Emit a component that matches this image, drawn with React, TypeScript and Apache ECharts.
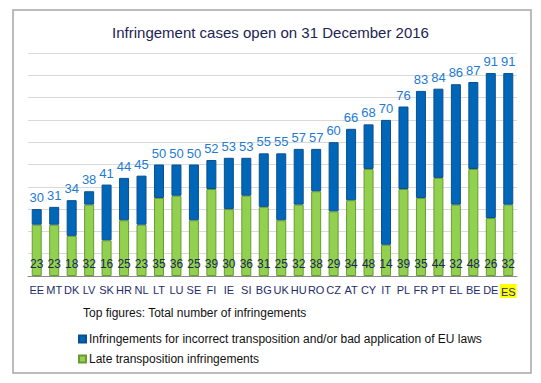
import React, { useEffect, useRef } from "react";
import * as echarts from "echarts";

const categories = ["EE","MT","DK","LV","SK","HR","NL","LT","LU","SE","FI","IE","SI","BG","UK","HU","RO","CZ","AT","CY","IT","PL","FR","PT","EL","BE","DE","ES"];
const totals = [30,31,34,38,41,44,45,50,50,50,52,53,53,55,55,57,57,60,66,68,70,76,83,84,86,87,91,91];
const late = [23,23,18,32,16,25,23,35,36,25,39,30,36,31,25,32,38,29,34,48,14,39,35,44,32,48,26,32];
const incorrect = totals.map((t, i) => t - late[i]);

const FONT = "'Liberation Sans', Arial, sans-serif";

export default function App() {
  const ref = useRef<HTMLDivElement>(null);
  useEffect(() => {
    if (!ref.current) return;
    const chart = echarts.init(ref.current, undefined, { renderer: "svg" });
    chart.setOption({
      animation: false,
      backgroundColor: "#ffffff",
      textStyle: { fontFamily: FONT },
      title: {
        text: "Infringement cases open on 31 December 2016",
        left: "center",
        top: 20,
        textStyle: { fontFamily: FONT, fontSize: 15, fontWeight: "normal", color: "#1c2452" },
      },
      grid: { left: 28, right: 24, top: 53, bottom: 107, containLabel: false },
      xAxis: {
        type: "category",
        data: categories,
        axisTick: { show: false },
        axisLine: { lineStyle: { color: "#8c8c8c", width: 1 } },
        axisLabel: {
          interval: 0,
          margin: 8,
          fontSize: 11,
          color: "#1f2d6b",
          fontFamily: FONT,
          formatter: (v: string) => (v === "ES" ? "{hl|ES}" : v),
          rich: {
            hl: { backgroundColor: "#ffff00", color: "#1f2d6b", fontSize: 11, padding: [2, 1, 1, 1], fontFamily: FONT },
          },
        },
      },
      yAxis: {
        type: "value",
        min: 0,
        max: 100,
        interval: 10,
        axisLabel: { show: false },
        axisLine: { show: false },
        axisTick: { show: false },
        splitLine: { lineStyle: { color: "#d9d9d9", width: 1 } },
      },
      legend: {
        orient: "vertical",
        left: 73,
        top: 328,
        itemWidth: 7,
        itemHeight: 7,
        itemGap: 8,
        icon: "rect",
        textStyle: { fontFamily: FONT, fontSize: 12, color: "#111111", padding: [0, 0, 0, -2] },
        data: ["Infringements for incorrect transposition and/or bad application of EU laws", "Late transposition infringements"],
      },
      graphic: [
        {
          type: "rect",
          shape: { x: 13, y: 10, width: 518, height: 363 },
          style: { fill: "none", stroke: "#a6a6a6", lineWidth: 1.5 },
          silent: true,
        },
        {
          type: "text",
          left: 83,
          top: 307,
          style: { text: "Top figures: Total number of infringements", font: `12px ${FONT}`, fill: "#111111" },
        },
      ],
      series: [
        {
          name: "Late transposition infringements",
          type: "bar",
          stack: "total",
          barWidth: 10,
          data: late,
          itemStyle: { color: "#92d050", borderColor: "#6a9a32", borderWidth: 1 },
          label: {
            show: true,
            position: "insideBottom",
            distance: 6,
            fontSize: 12,
            color: "#1b2a4e",
            fontFamily: FONT,
          },
        },
        {
          name: "Infringements for incorrect transposition and/or bad application of EU laws",
          type: "bar",
          stack: "total",
          barWidth: 10,
          data: incorrect,
          itemStyle: { color: "#0066b8", borderColor: "#0a4f8f", borderWidth: 1 },
          label: {
            show: true,
            position: "top",
            distance: 5,
            fontSize: 13,
            color: "#1e7bd2",
            fontFamily: FONT,
            formatter: (p: any) => String(totals[p.dataIndex]),
          },
        },
      ],
    });
    return () => chart.dispose();
  }, []);
  return <div ref={ref} style={{ position: "fixed", left: 0, top: 0, width: 541, height: 383 }} />;
}
